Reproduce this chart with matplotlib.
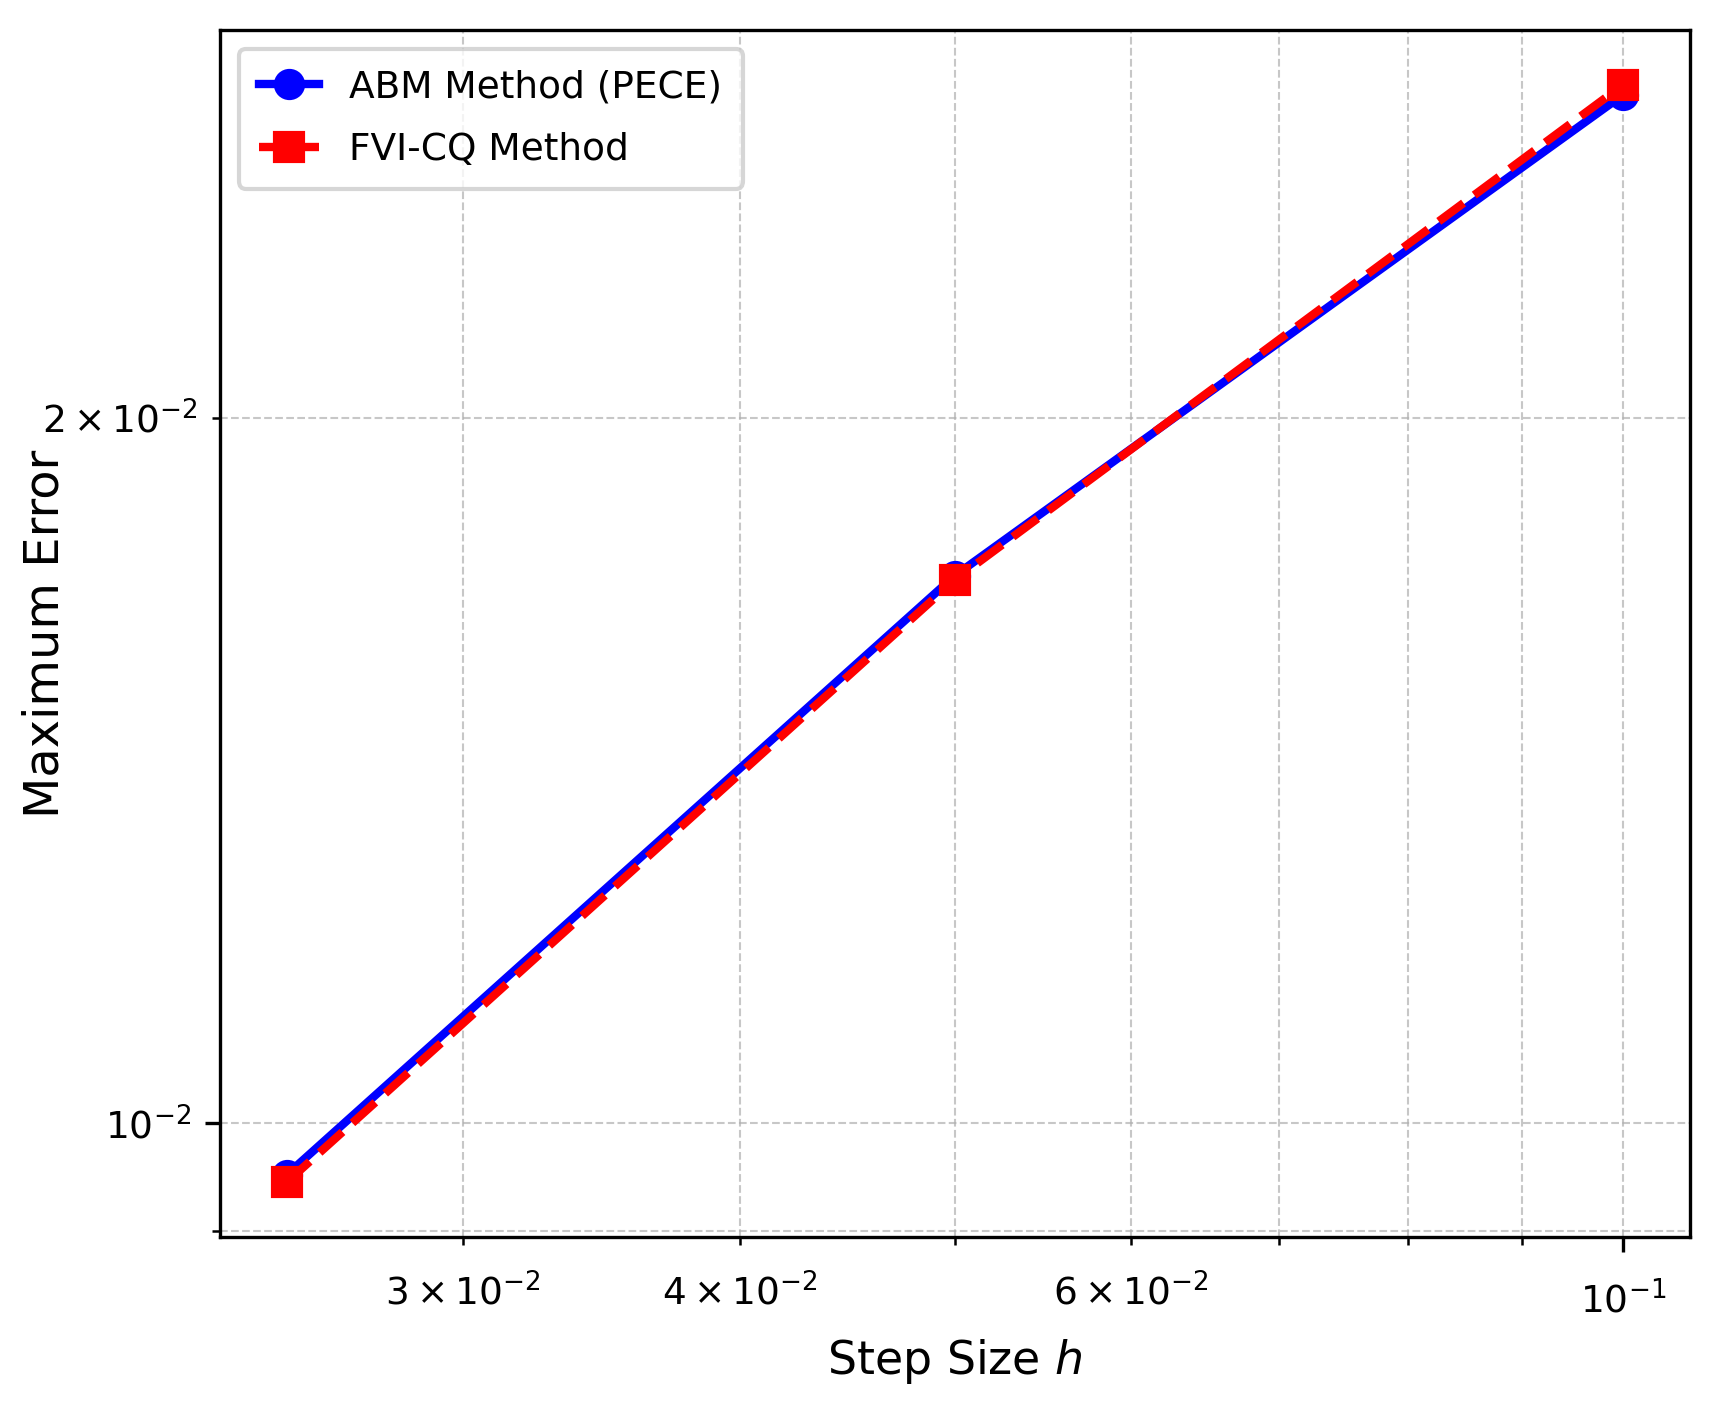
import matplotlib
matplotlib.use("Agg")
import matplotlib.pyplot as plt

# Step sizes and maximum errors
step_sizes = [0.025, 0.05, 0.1]
abm_errors = [0.00951, 0.01713, 0.02747]
fvicq_errors = [0.00944, 0.01706, 0.02774]

# Create a figure
fig, ax = plt.subplots(figsize=(1711 / 300, 1406 / 300), dpi=300)
fig.subplots_adjust(left=0.1286, right=0.9877, bottom=0.1202, top=0.9787)

# Plot both methods on log-log axes
ax.loglog(step_sizes, abm_errors, 'b-o', linewidth=2, markersize=6.5, label='ABM Method (PECE)')
ax.loglog(step_sizes, fvicq_errors, 'r--s', linewidth=2, markersize=6.5, label='FVI-CQ Method')

# Customize the plot
ax.tick_params(axis='both', which='both', labelsize=9)
ax.tick_params(axis='x', which='both', pad=7)
ax.set_xlabel('Step Size $h$', fontsize=11)
ax.set_ylabel('Maximum Error', fontsize=11.5)
ax.yaxis.set_label_coords(-0.103, 0.5)
ax.legend(loc='upper left', fontsize=9, handlelength=1.6, labelspacing=0.72, borderpad=0.55)
ax.grid(True, which='both', linestyle='--', linewidth=0.5, alpha=0.7)

fig.savefig('out.png', dpi=300)
